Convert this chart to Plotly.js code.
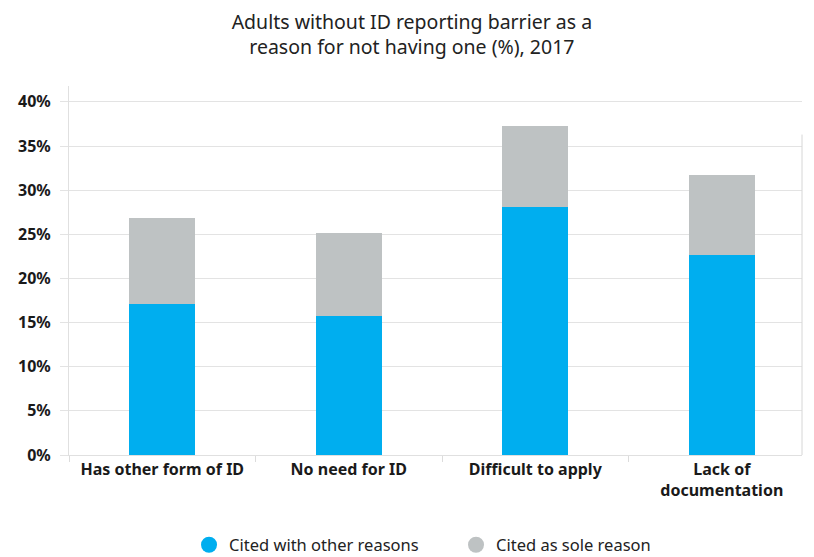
<!DOCTYPE html>
<html>
<head>
<meta charset="utf-8">
<script src="https://cdn.plot.ly/plotly-3.0.1.min.js"></script>
<style>html,body{margin:0;padding:0;background:#fff;}#chart{width:814px;height:557px;}</style>
</head>
<body>
<div id="chart"></div>
<script>
const categories = ["Has other form of ID", "No need for ID", "Difficult to apply", "Lack of<br>documentation"];
const citedWithOther = [17.1, 15.8, 28.1, 22.7];
const citedSole = [9.8, 9.4, 9.2, 9.0];
const seriesNames = ["Cited with other reasons", "Cited as sole reason"];
const colors = ["#00AEEF", "#BEC2C3"];
const yTickVals = [0, 5, 10, 15, 20, 25, 30, 35, 40];
const yTickText = ["0%", "5%", "10%", "15%", "20%", "25%", "30%", "35%", "40%"];

const font = "'Noto Sans', 'Open Sans', sans-serif";
const barWidth = 0.354;

const traces = [
  {type: "bar", x: categories, y: citedWithOther, name: seriesNames[0], marker: {color: colors[0]}, width: barWidth, showlegend: false, hoverinfo: "y+name"},
  {type: "bar", x: categories, y: citedSole, name: seriesNames[1], marker: {color: colors[1]}, width: barWidth, showlegend: false, hoverinfo: "y+name"},
  {type: "scatter", mode: "markers", x: [null], y: [null], name: seriesNames[0], marker: {symbol: "circle", size: 16, color: colors[0]}, showlegend: true},
  {type: "scatter", mode: "markers", x: [null], y: [null], name: seriesNames[1], marker: {symbol: "circle", size: 16, color: colors[1]}, showlegend: true}
];

const layout = {
  width: 814, height: 557,
  margin: {l: 69, r: 12, t: 86, b: 102},
  paper_bgcolor: "#fff", plot_bgcolor: "#fff",
  barmode: "stack",
  font: {family: font, color: "#1a1a1a"},
  title: {
    text: "Adults without ID reporting barrier as a<br>reason for not having one (%), 2017",
    x: 0.506, xanchor: "center", y: 0.948, yanchor: "middle",
    font: {family: font, size: 19.5, color: "#222"}
  },
  xaxis: {
    type: "category",
    range: [-0.5, 3.43],
    showgrid: false, zeroline: false,
    showline: true, linecolor: "#e0e0e0", linewidth: 1,
    ticks: "outside", tickson: "boundaries", ticklen: 6, tickcolor: "#dcdcdc",
    tickfont: {family: font, size: 16, color: "#1a1a1a", weight: "bold"},
    fixedrange: true
  },
  yaxis: {
    range: [0, 41.8],
    tickvals: yTickVals, ticktext: yTickText,
    showgrid: true, gridcolor: "#e3e3e3", gridwidth: 1,
    zeroline: false,
    showline: true, linecolor: "#e0e0e0", linewidth: 1,
    ticks: "outside", ticklen: 8, tickcolor: "#e3e3e3",
    ticklabelstandoff: 6,
    tickfont: {family: font, size: 16, color: "#1a1a1a", weight: "bold"},
    fixedrange: true
  },
  legend: {
    orientation: "h", traceorder: "normal",
    x: 0.528, xanchor: "center", yref: "container", y: 0.0215, yanchor: "middle",
    font: {family: font, size: 16.5, color: "#222"},
    entrywidth: 222, entrywidthmode: "pixels"
  },
  shapes: [
    {type: "line", xref: "paper", yref: "y", x0: 1, x1: 1, y0: -0.6, y1: 36.3, line: {color: "#d6d6d6", width: 1}}
  ]
};

Plotly.newPlot("chart", traces, layout, {displayModeBar: false, staticPlot: true});
</script>
</body>
</html>
